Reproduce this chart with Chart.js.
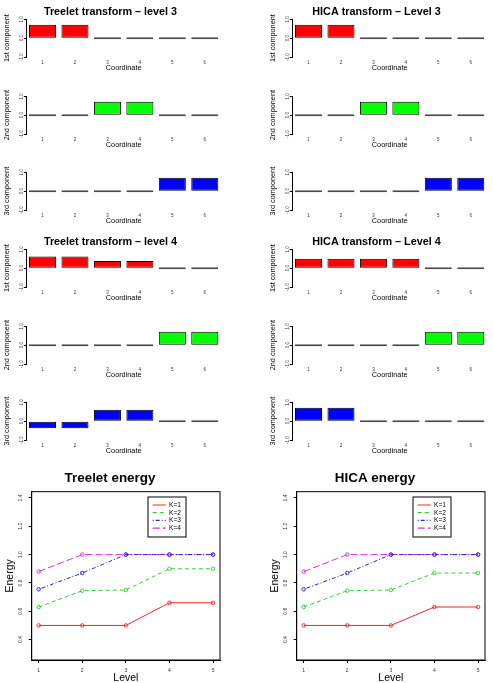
<!DOCTYPE html>
<html>
<head>
<meta charset="utf-8">
<script src="https://cdn.jsdelivr.net/npm/chart.js@4.4.0/dist/chart.umd.min.js"></script>
<style>
  html, body { margin: 0; padding: 0; background: #fff; overflow: hidden; width: 493px; height: 683px; }
  canvas { position: absolute; }
</style>
</head>
<body>
<script>
// ---- data ----
const coordinates = ["1", "2", "3", "4", "5", "6"];
const barTicks = [-1, -0.5, 0, 0.5, 1];

const treelet3First = [0.71, 0.71, 0, 0, 0, 0];
const treelet3Second = [0, 0, 0.71, 0.71, 0, 0];
const treelet3Third = [0, 0, 0, 0, 0.71, 0.71];
const hica3First = [0.71, 0.71, 0, 0, 0, 0];
const hica3Second = [0, 0, 0.71, 0.71, 0, 0];
const hica3Third = [0, 0, 0, 0, 0.71, 0.71];

const treelet4First = [0.61, 0.61, 0.38, 0.38, 0, 0];
const treelet4Second = [0, 0, 0, 0, 0.71, 0.71];
const treelet4Third = [-0.38, -0.38, 0.6, 0.6, 0, 0];
const hica4First = [0.5, 0.5, 0.5, 0.5, 0, 0];
const hica4Second = [0, 0, 0, 0, 0.71, 0.71];
const hica4Third = [0.71, 0.71, 0, 0, 0, 0];

const levels = [1, 2, 3, 4, 5];
const energyTicks = [0.4, 0.6, 0.8, 1.0, 1.2, 1.4];
const kLabels = ["K=1", "K=2", "K=3", "K=4"];

const treeletK1 = [0.5, 0.5, 0.5, 0.66, 0.66];
const treeletK2 = [0.63, 0.745, 0.75, 0.9, 0.9];
const treeletK3 = [0.755, 0.87, 1.0, 1.0, 1.0];
const treeletK4 = [0.88, 1.0, 1.0, 1.0, 1.0];
const hicaK1 = [0.5, 0.5, 0.5, 0.63, 0.63];
const hicaK2 = [0.63, 0.745, 0.75, 0.87, 0.87];
const hicaK3 = [0.755, 0.87, 1.0, 1.0, 1.0];
const hicaK4 = [0.88, 1.0, 1.0, 1.0, 1.0];

// ---- styling ----
const FONT = "'Liberation Sans', Arial, Helvetica, sans-serif";
const RED = "#ff0000";
const GREEN = "#00ff00";
const BLUE = "#0000ff";
const lineColors = ["#ee2a2a", "#2fd42f", "#2a2acc", "#dd2ddd"];
const lineDashes = [[], [4, 3], [1, 2, 4, 2], [7, 3]];

const makeCanvas = (left, top, width, height) => {
  const c = document.createElement("canvas");
  c.width = width;
  c.height = height;
  c.style.left = left + "px";
  c.style.top = top + "px";
  c.style.width = width + "px";
  c.style.height = height + "px";
  document.body.appendChild(c);
  return c;
};

// box around plot + legend box, and legend placed inside the plot
const framePlugin = {
  id: "frame",
  afterLayout(chart, args, opts) {
    const lg = chart.legend;
    if (!opts.legendAt || !lg) return;
    const w = lg.width;
    const h = lg.height;
    lg.left = opts.legendAt.x;
    lg.top = opts.legendAt.y;
    lg.right = lg.left + w;
    lg.bottom = lg.top + h;
  },
  afterDraw(chart, args, opts) {
    if (!opts.box) return;
    const { ctx, chartArea: a } = chart;
    ctx.save();
    ctx.strokeStyle = "#000";
    ctx.lineWidth = 1;
    ctx.strokeRect(a.left, a.top, a.right - a.left, a.bottom - a.top);
    if (opts.legendBox) {
      const b = opts.legendBox;
      ctx.strokeRect(b.x, b.y, b.w, b.h);
    }
    ctx.restore();
  },
};

const renderBars = ({ left, top, values, color, yTitle, title = "" }) => {
  const canvas = makeCanvas(left, top, 246, 77);
  new Chart(canvas, {
    type: "bar",
    data: {
      labels: coordinates,
      datasets: [
        {
          data: values,
          backgroundColor: color,
          borderColor: (c) => (values[c.dataIndex] === 0 ? "#4a4a4a" : "#000"),
          borderWidth: 1,
          borderSkipped: false,
          minBarLength: 2,
          barPercentage: 0.833,
          categoryPercentage: 1,
        },
      ],
    },
    options: {
      responsive: false,
      animation: false,
      devicePixelRatio: 1,
      layout: { padding: { left: 0, right: 25, top: title ? 0 : 19.3, bottom: 0 } },
      plugins: {
        legend: { display: false },
        tooltip: { enabled: false },
        title: {
          display: !!title,
          text: title,
          color: "#000",
          font: { family: FONT, size: 10.8, weight: "bold" },
          padding: { top: 5.2, bottom: 1.1 },
        },
      },
      scales: {
        x: {
          grid: { display: false, drawTicks: false },
          border: { display: false },
          ticks: {
            font: { family: FONT, size: 4.5 },
            color: "#333",
            padding: 2.75,
            maxRotation: 0,
            autoSkip: false,
          },
          title: {
            display: true,
            text: "Coordinate",
            color: "#000",
            font: { family: FONT, size: 7.3 },
            padding: { top: 0, bottom: 4.3 },
          },
          afterFit: (s) => {
            s.height = 20;
          },
        },
        y: {
          min: -1,
          max: 1,
          afterBuildTicks: (s) => {
            s.ticks = barTicks.map((v) => ({ value: v }));
          },
          ticks: {
            font: { family: FONT, size: 4.5 },
            color: "#333",
            minRotation: 90,
            maxRotation: 90,
            crossAlign: "center",
            padding: -1.6,
            callback: (v) => v.toFixed(1),
          },
          grid: { drawOnChartArea: false, drawTicks: true, tickLength: 2.5, color: "#000" },
          border: { display: true, color: "#000" },
          title: {
            display: true,
            text: yTitle,
            color: "#000",
            font: { family: FONT, size: 7.3 },
            padding: { top: 3, bottom: 0 },
          },
          afterFit: (s) => {
            s.width = 26.3;
          },
        },
      },
    },
  });
};

const renderEnergy = ({ left, top, title, series }) => {
  const canvas = makeCanvas(left, top, 246, 223);
  new Chart(canvas, {
    type: "line",
    data: {
      datasets: series.map((vals, k) => ({
        label: kLabels[k],
        data: levels.map((l, i) => ({ x: l, y: vals[i] })),
        borderColor: lineColors[k],
        borderDash: lineDashes[k],
        borderWidth: 1,
        pointRadius: 1.8,
        pointBorderWidth: 0.9,
        pointBackgroundColor: "rgba(0,0,0,0)",
        pointBorderColor: lineColors[k],
        tension: 0,
        fill: false,
      })),
    },
    options: {
      responsive: false,
      animation: false,
      devicePixelRatio: 1,
      layout: { padding: { left: 0, right: 26, top: 0, bottom: 0 } },
      plugins: {
        tooltip: { enabled: false },
        title: {
          display: true,
          text: title,
          color: "#000",
          font: { family: FONT, size: 13.4, weight: "bold" },
          padding: { top: 10, bottom: 5.6 },
        },
        legend: {
          position: "chartArea",
          align: "start",
          labels: {
            usePointStyle: true,
            pointStyle: "line",
            pointStyleWidth: 13,
            color: "#000",
            font: { family: FONT, size: 6.6 },
            padding: 1.1,
            // use the line's own dash and colour for the legend sample
            generateLabels: (chart) =>
              Chart.defaults.plugins.legend.labels.generateLabels(chart).map((item) => {
                const ds = chart.data.datasets[item.datasetIndex];
                return { ...item, lineDash: ds.borderDash, strokeStyle: ds.borderColor, lineWidth: 1.2 };
              }),
          },
        },
        frame: {
          box: true,
          legendAt: { x: 151.6, y: 40.6 },
          legendBox: { x: 148, y: 37, w: 38, h: 40 },
        },
      },
      scales: {
        x: {
          type: "linear",
          min: 0.84,
          max: 5.16,
          afterBuildTicks: (s) => {
            s.ticks = levels.map((v) => ({ value: v }));
          },
          ticks: {
            font: { family: FONT, size: 5 },
            color: "#333",
            padding: 4.5,
            maxRotation: 0,
            autoSkip: false,
            callback: (v) => String(v),
          },
          grid: { drawOnChartArea: false, drawTicks: true, tickLength: 3, color: "#000" },
          border: { display: true, color: "#000" },
          title: {
            display: true,
            text: "Level",
            color: "#000",
            font: { family: FONT, size: 10.5, lineHeight: 1 },
            padding: { top: 0, bottom: 0 },
          },
          afterFit: (s) => {
            s.height = 23;
          },
        },
        y: {
          min: 0.256,
          max: 1.444,
          afterBuildTicks: (s) => {
            s.ticks = energyTicks.map((v) => ({ value: v }));
          },
          ticks: {
            font: { family: FONT, size: 5 },
            color: "#333",
            minRotation: 90,
            maxRotation: 90,
            crossAlign: "center",
            padding: 4.5,
            callback: (v) => v.toFixed(1),
          },
          grid: { drawOnChartArea: false, drawTicks: true, tickLength: 3, color: "#000" },
          border: { display: true, color: "#000" },
          title: {
            display: true,
            text: "Energy",
            color: "#000",
            font: { family: FONT, size: 10.5 },
            padding: { top: 3.7, bottom: 0 },
          },
          afterFit: (s) => {
            s.width = 31.7;
          },
        },
      },
    },
    plugins: [framePlugin],
  });
};

// ---- layout: two columns of six bar panels, then the two energy plots ----
const rowTop = (i) => Math.round(i * 76.67);
const LEFT = 0;
const RIGHT = 266;

renderBars({ left: LEFT, top: rowTop(0), values: treelet3First, color: RED, yTitle: "1st component", title: "Treelet transform \u2013 level 3" });
renderBars({ left: LEFT, top: rowTop(1), values: treelet3Second, color: GREEN, yTitle: "2nd component" });
renderBars({ left: LEFT, top: rowTop(2), values: treelet3Third, color: BLUE, yTitle: "3rd component" });
renderBars({ left: LEFT, top: rowTop(3), values: treelet4First, color: RED, yTitle: "1st component", title: "Treelet transform \u2013 level 4" });
renderBars({ left: LEFT, top: rowTop(4), values: treelet4Second, color: GREEN, yTitle: "2nd component" });
renderBars({ left: LEFT, top: rowTop(5), values: treelet4Third, color: BLUE, yTitle: "3rd component" });

renderBars({ left: RIGHT, top: rowTop(0), values: hica3First, color: RED, yTitle: "1st component", title: "HICA transform \u2013 Level 3" });
renderBars({ left: RIGHT, top: rowTop(1), values: hica3Second, color: GREEN, yTitle: "2nd component" });
renderBars({ left: RIGHT, top: rowTop(2), values: hica3Third, color: BLUE, yTitle: "3rd component" });
renderBars({ left: RIGHT, top: rowTop(3), values: hica4First, color: RED, yTitle: "1st component", title: "HICA transform \u2013 Level 4" });
renderBars({ left: RIGHT, top: rowTop(4), values: hica4Second, color: GREEN, yTitle: "2nd component" });
renderBars({ left: RIGHT, top: rowTop(5), values: hica4Third, color: BLUE, yTitle: "3rd component" });

renderEnergy({ left: 0, top: 460, title: "Treelet energy", series: [treeletK1, treeletK2, treeletK3, treeletK4] });
renderEnergy({ left: 265, top: 460, title: "HICA energy", series: [hicaK1, hicaK2, hicaK3, hicaK4] });
</script>
</body>
</html>
